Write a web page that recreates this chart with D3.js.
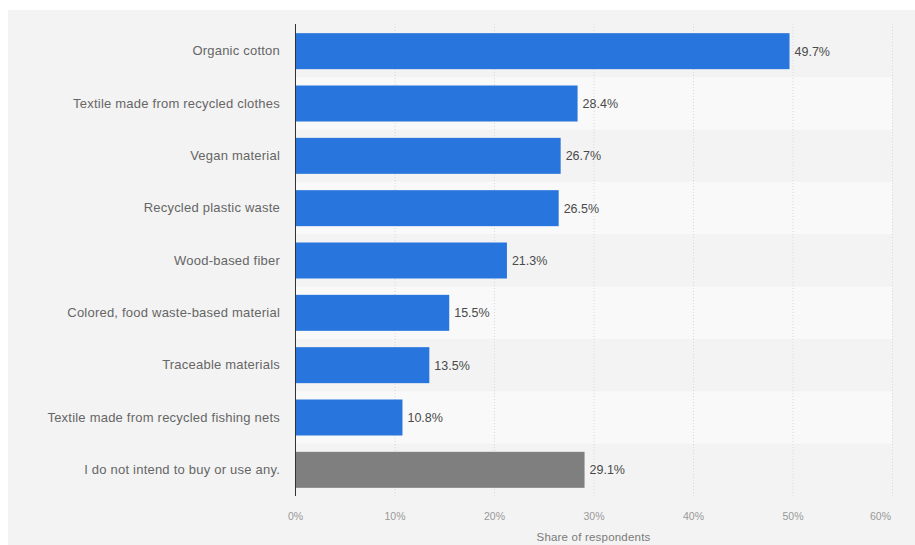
<!DOCTYPE html>
<html>
<head>
<meta charset="utf-8">
<script src="https://cdn.jsdelivr.net/npm/d3@7"></script>
<style>
  html, body { margin: 0; padding: 0; background: #ffffff; }
  svg { display: block; font-family: "Liberation Sans", Arial, sans-serif; }
</style>
</head>
<body>
<svg id="chart" width="915" height="545"></svg>
<script>
// Materials respondents would buy or use
const categories = [
  "Organic cotton",
  "Textile made from recycled clothes",
  "Vegan material",
  "Recycled plastic waste",
  "Wood-based fiber",
  "Colored, food waste-based material",
  "Traceable materials",
  "Textile made from recycled fishing nets",
  "I do not intend to buy or use any."
];
const shares = [49.7, 28.4, 26.7, 26.5, 21.3, 15.5, 13.5, 10.8, 29.1];
const tickValues = [0, 10, 20, 30, 40, 50, 60];
const axisTitle = "Share of respondents";

const svg = d3.select("#chart");
const W = 915, H = 545;

// panel background
svg.append("rect")
  .attr("x", 8).attr("y", 10)
  .attr("width", W - 8).attr("height", H - 10)
  .attr("fill", "#f3f3f3");

const x = d3.scaleLinear().domain([0, 60]).range([295, 892]);
const y = d3.scaleBand().domain(categories).range([25, 496]).paddingInner(0).paddingOuter(0);

// alternating row stripes
svg.append("g").selectAll("rect")
  .data(categories.filter((d, i) => i % 2 === 1))
  .join("rect")
  .attr("x", x(0))
  .attr("y", d => y(d))
  .attr("width", x(60) - x(0))
  .attr("height", y.bandwidth())
  .attr("fill", "#f9f9f9");

// vertical dotted gridlines
svg.append("g").selectAll("line")
  .data(tickValues.filter(v => v > 0))
  .join("line")
  .attr("x1", d => x(d) + 0.5).attr("x2", d => x(d) + 0.5)
  .attr("y1", 24).attr("y2", 496)
  .attr("stroke", "#d8d8d8")
  .attr("stroke-width", 1)
  .attr("stroke-dasharray", "1,2");

// bars
const barH = 36;
svg.append("g").selectAll("rect")
  .data(shares)
  .join("rect")
  .attr("x", x(0))
  .attr("y", (d, i) => y(categories[i]) + (y.bandwidth() - barH) / 2)
  .attr("width", d => x(d) - x(0))
  .attr("height", barH)
  .attr("fill", (d, i) => i === categories.length - 1 ? "#7f7f7f" : "#2876dd");

// value labels
svg.append("g").selectAll("text")
  .data(shares)
  .join("text")
  .attr("x", d => x(d) + 5)
  .attr("y", (d, i) => y(categories[i]) + y.bandwidth() / 2)
  .attr("dy", "0.35em")
  .attr("font-size", 12.5)
  .attr("fill", "#4a4a4a")
  .text(d => d.toFixed(1) + "%");

// category axis
const yAxis = d3.axisLeft(y).tickSize(0).tickPadding(15);
const gy = svg.append("g").attr("transform", `translate(${x(0)},0)`).call(yAxis);
gy.select(".domain").remove();
gy.selectAll("text")
  .attr("font-size", 13)
  .attr("letter-spacing", "0.22px")
  .attr("font-family", "Liberation Sans, Arial, sans-serif")
  .attr("fill", "#666666");

// vertical baseline
svg.append("line")
  .attr("x1", x(0) + 0.5).attr("x2", x(0) + 0.5)
  .attr("y1", 24).attr("y2", 496)
  .attr("stroke", "#333333")
  .attr("stroke-width", 1);

// value axis
const xAxis = d3.axisBottom(x).tickValues(tickValues).tickSize(0).tickPadding(17)
  .tickFormat(d => d + "%");
const gx = svg.append("g").attr("transform", "translate(0,496)").call(xAxis);
gx.select(".domain").remove();
gx.selectAll("text")
  .attr("font-size", 10.5)
  .attr("font-family", "Liberation Sans, Arial, sans-serif")
  .attr("fill", "#999999");
gx.selectAll(".tick").filter(d => d === 60).select("text").attr("dx", -12);

// axis title
svg.append("text")
  .attr("x", (x(0) + x(60)) / 2)
  .attr("y", 541)
  .attr("text-anchor", "middle")
  .attr("font-size", 11.5)
  .attr("letter-spacing", "0.2px")
  .attr("fill", "#7a7a7a")
  .text(axisTitle);
</script>
</body>
</html>
